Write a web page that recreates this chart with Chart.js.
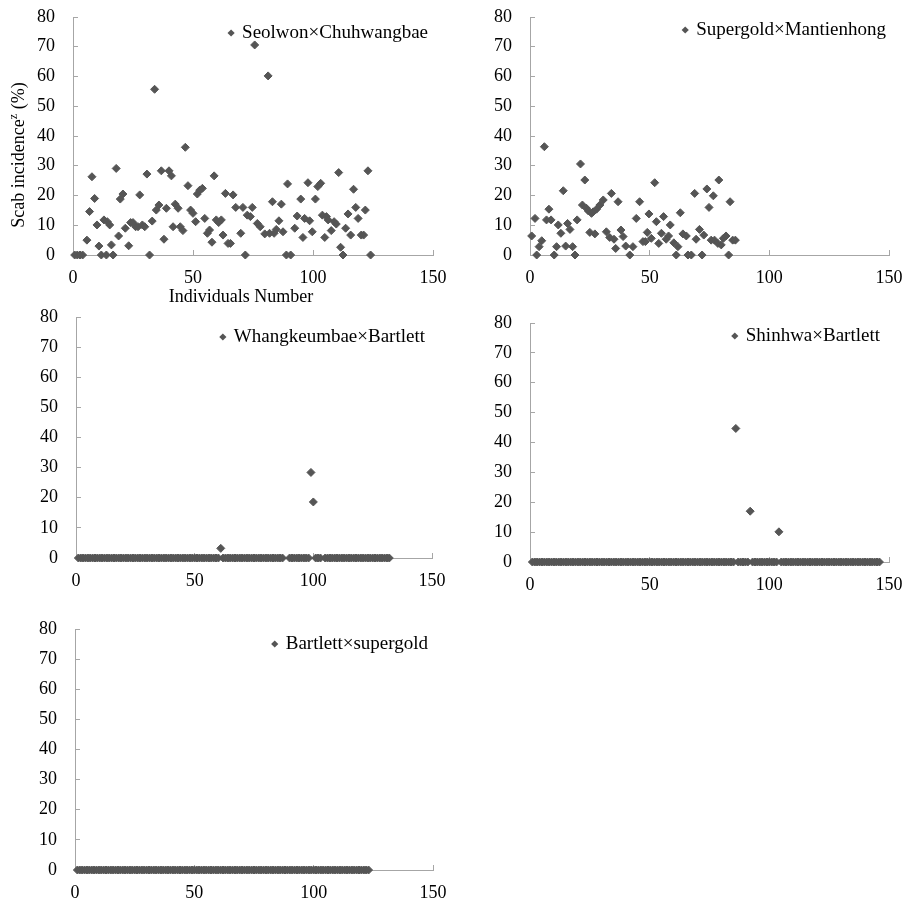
<!DOCTYPE html>
<html>
<head>
<meta charset="utf-8">
<title>Scab incidence by cross</title>
<script src="https://cdn.jsdelivr.net/npm/chart.js@4.4.1/dist/chart.umd.min.js"></script>
<style>
  html, body { margin: 0; background: #fff; overflow: hidden; }
  body { width: 904px; height: 901px; position: relative; font-family: 'Liberation Serif', 'Times New Roman', serif; }
  canvas { position: absolute; }
  .ttl { position: absolute; font-size: 18px; color: #000; white-space: nowrap; text-align: center; line-height: 22px; height: 22px; }
  .ttl sup { font-size: 12px; line-height: 0; }
</style>
</head>
<body>
<canvas id="c1" width="435" height="290" style="left:13px;top:5px"></canvas>
<canvas id="c2" width="434" height="290" style="left:470px;top:5px"></canvas>
<canvas id="c3" width="431" height="293" style="left:16px;top:305px"></canvas>
<canvas id="c4" width="434" height="291" style="left:470px;top:311px"></canvas>
<canvas id="c5" width="433" height="293" style="left:15px;top:617px"></canvas>
<div class="ttl" style="left:-82px;top:144px;width:200px;transform:rotate(-90deg)">Scab incidence<sup>z</sup> (%)</div>
<div class="ttl" style="left:141px;top:285px;width:200px">Individuals Number</div>

<script>
// Seolwon x Chuhwangbae : individual number / scab incidence (%)
const swIds = [0.7,1.8,2.9,4.0,5.8,6.9,7.9,9.0,10.0,10.8,
  11.8,12.9,13.9,14.3,15.3,16.0,16.7,18.0,19.0,19.7,
  20.8,21.8,23.2,24.0,25.0,26.1,27.1,27.8,28.9,29.9,
  30.8,31.9,33.0,34.0,34.7,35.8,36.8,37.9,38.9,40.0,
  41.0,41.7,42.6,43.8,44.7,45.8,46.8,47.9,49.0,50.0,
  51.1,51.8,52.8,53.9,54.9,56.0,56.9,57.9,58.8,59.7,
  60.7,61.8,62.5,63.5,64.6,65.6,66.7,67.8,69.9,70.8,
  71.8,72.6,73.9,74.7,75.7,76.8,78.0,79.9,81.3,81.9,
  83.1,83.8,84.7,85.8,86.8,87.5,88.9,89.4,90.7,92.4,
  93.4,94.9,95.8,96.5,97.9,98.6,99.7,101.0,102.0,103.2,
  103.9,104.9,105.6,106.3,107.6,108.8,109.7,110.7,111.5,112.5,
  113.6,114.6,115.7,116.9,117.8,118.8,120.1,121.1,121.8,122.9,
  124.0];
const swScab = [0,0,0,0,5.0,14.6,26.3,19.0,10.1,3.0,
  0,11.8,0,11.2,10.1,3.4,0,29.1,6.4,18.8,
  20.5,9.0,3.1,10.9,10.9,9.5,9.5,20.2,10.1,9.5,
  27.2,0,11.4,55.7,15.1,16.8,28.3,5.3,15.7,28.3,
  26.6,9.5,17.1,15.7,9.5,8.2,36.2,23.3,15.1,14.0,
  11.2,20.5,21.8,22.4,12.3,7.3,8.4,4.3,26.6,11.8,
  10.9,11.8,6.7,20.7,3.9,3.9,20.2,16.0,7.3,16.0,
  0,13.4,12.9,16.0,70.6,10.6,9.5,7.1,60.2,7.3,
  17.9,7.3,8.6,11.5,17.1,7.8,0,23.9,0,9.0,
  13.1,18.8,5.9,12.3,24.3,11.5,7.8,18.8,23.0,24.1,
  13.4,5.9,12.9,11.8,8.2,11.2,10.4,27.7,2.6,0,
  9.0,13.8,6.7,22.1,16.0,12.3,6.7,6.7,15.1,28.3,
  0];

// Supergold x Mantienhong
const sgIds = [0.7,2.1,2.8,3.8,4.9,6.0,6.9,7.9,8.8,10.1,
  11.1,11.8,12.9,13.9,14.9,15.7,16.7,17.8,18.8,19.7,
  21.1,21.9,22.9,23.6,24.4,25.0,25.7,26.4,27.1,27.8,
  29.2,30.6,31.9,33.3,34.0,35.1,35.8,36.8,38.0,38.9,
  40.0,41.7,43.0,44.4,45.8,47.2,48.2,49.0,49.7,50.7,
  52.1,52.8,53.8,54.9,55.8,56.9,57.9,58.6,60.1,61.1,
  61.8,62.8,63.9,65.3,66.0,67.4,68.8,69.4,70.8,71.9,
  72.6,73.9,74.8,75.7,76.6,77.1,78.5,78.9,79.9,80.8,
  81.9,83.0,83.6,84.7,85.8];
const sgScab = [6.4,12.3,0,2.8,4.8,36.4,11.8,15.4,11.8,0,
  2.8,10.1,7.3,21.6,3.0,10.6,8.6,2.8,0,11.8,
  30.6,16.8,25.2,15.7,14.8,7.6,14.0,14.5,7.1,15.4,
  16.8,18.5,7.8,5.9,20.7,5.3,2.2,17.9,8.4,6.2,
  3.0,0,2.8,12.3,17.9,4.5,4.5,7.6,13.8,5.6,
  24.3,11.2,3.9,7.3,12.9,5.3,6.4,10.1,4.1,0,
  2.8,14.2,7.1,6.4,0,0,20.7,5.3,8.6,0,
  6.7,22.2,16.0,5.0,19.9,5.0,3.9,25.2,3.4,5.6,
  6.4,0,17.9,5.0,5.0];

// Whangkeumbae x Bartlett, individuals 1..132 (null = no record)
const wbScab = [0,0,0,0,0,0,0,0,0,0,
  0,0,0,0,0,0,0,0,0,0,
  0,0,0,0,0,0,0,0,0,0,
  0,0,0,0,0,0,0,0,0,0,
  0,0,0,0,0,0,0,0,0,0,
  0,0,0,0,0,0,0,0,0,0,
  3.2,0,0,0,0,0,0,0,0,0,
  0,0,0,0,0,0,0,0,0,0,
  0,0,0,0,0,0,0,null,null,0,
  0,0,0,0,0,0,0,0,28.4,18.6,
  0,0,0,null,0,0,0,0,0,0,
  0,0,0,0,0,0,0,0,0,0,
  0,0,0,0,0,0,0,0,0,0,
  0,0];

// Shinhwa x Bartlett, individuals 1..146
const shScab = [0,0,0,0,0,0,0,0,0,0,
  0,0,0,0,0,0,0,0,0,0,
  0,0,0,0,0,0,0,0,0,0,
  0,0,0,0,0,0,0,0,0,0,
  0,0,0,0,0,0,0,0,0,0,
  0,0,0,0,0,0,0,0,0,0,
  0,0,0,0,0,0,0,0,0,0,
  0,0,0,0,0,0,0,0,0,0,
  0,0,0,0,0,44.7,0,0,0,0,
  0,17.0,0,0,0,0,0,0,0,0,
  0,0,0,10.1,0,0,0,0,0,0,
  0,0,0,0,0,0,0,0,0,0,
  0,0,0,0,0,0,0,0,0,0,
  0,0,0,0,0,0,0,0,0,0,
  0,0,0,0,0,0];

// Bartlett x supergold, individuals 1..123
const bsScab = [0,0,0,0,0,0,0,0,0,0,
  0,0,0,0,0,0,0,0,0,0,
  0,0,0,0,0,0,0,0,0,0,
  0,0,0,0,0,0,0,0,0,0,
  0,0,0,0,0,0,0,0,0,0,
  0,0,0,0,0,0,0,0,0,0,
  0,0,0,0,0,0,0,0,0,0,
  0,0,0,0,0,0,0,0,0,0,
  0,0,0,0,0,0,0,0,0,0,
  0,0,0,0,0,0,0,0,0,0,
  0,0,0,0,0,0,0,0,0,0,
  0,0,0,0,0,0,0,0,0,0,
  0,0,0];

const xTicks = [0, 50, 100, 150];
const yTicks = [0, 10, 20, 30, 40, 50, 60, 70, 80];

const MARK = '#555555';
const AXIS = '#a6a6a6';
const FONT = "'Liberation Serif', 'Times New Roman', serif";

// légende dessinée dans la zone du graphique (coin haut droit)
const innerLegend = {
  id: 'innerLegend',
  afterDatasetsDraw(chart, args, opts) {
    const ctx = chart.ctx;
    const area = chart.chartArea;
    const label = chart.data.datasets[0].label;
    ctx.save();
    ctx.font = '19px ' + FONT;
    ctx.fillStyle = '#000';
    ctx.textBaseline = 'middle';
    ctx.textAlign = 'left';
    const w = ctx.measureText(label).width;
    const tx = area.right - opts.right - w;
    const ty = area.top + opts.top;
    ctx.fillText(label, tx, ty);
    // petit losange
    const mx = tx - 11, r = 3.6;
    ctx.fillStyle = MARK;
    ctx.beginPath();
    ctx.moveTo(mx, ty - r);
    ctx.lineTo(mx + r, ty);
    ctx.lineTo(mx, ty + r);
    ctx.lineTo(mx - r, ty);
    ctx.closePath();
    ctx.fill();
    ctx.restore();
  }
};

function axis(values, size, isX) {
  return {
    type: 'linear',
    min: values[0],
    max: values[values.length - 1],
    afterBuildTicks: (s) => { s.ticks = values.map(v => ({ value: v })); },
    afterFit: (s) => {
      if (isX) s.height = size; else s.width = size;
      // la marge est gérée par layout.padding
      s.paddingTop = 0; s.paddingBottom = 0; s.paddingLeft = 0; s.paddingRight = 0;
    },
    ticks: {
      color: '#000',
      font: { family: FONT, size: 18 },
      padding: isX ? 17 : 23,
      maxRotation: 0
    },
    grid: { drawOnChartArea: false, drawTicks: true, tickLength: -5, color: AXIS, lineWidth: 1 },
    border: { color: AXIS, width: 1 }
  };
}

function makeChart(id, points, label, leg) {
  return new Chart(document.getElementById(id), {
    type: 'scatter',
    data: {
      datasets: [{
        label: label,
        data: points,
        pointStyle: 'rectRot',
        pointRadius: 4,
        pointHoverRadius: 4,
        backgroundColor: MARK,
        borderColor: MARK,
        borderWidth: 1,
        clip: false
      }]
    },
    options: {
      responsive: false,
      animation: false,
      devicePixelRatio: 1,
      layout: { padding: { top: 12, right: 15, left: 0, bottom: 0 } },
      plugins: {
        legend: { display: false },
        tooltip: { enabled: false },
        innerLegend: leg
      },
      scales: {
        x: axis(xTicks, 40, true),
        y: axis(yTicks, 60, false)
      }
    },
    plugins: [innerLegend]
  });
}

const pairs = (xs, ys) => xs.map((x, i) => ({ x: x, y: ys[i] }));
const byIndex = (ys) => ys.map((y, i) => ({ x: i + 1, y: y }));

makeChart('c1', pairs(swIds, swScab), 'Seolwon×Chuhwangbae', { right: 5, top: 16 });
makeChart('c2', pairs(sgIds, sgScab), 'Supergold×Mantienhong', { right: 3, top: 13 });
makeChart('c3', byIndex(wbScab), 'Whangkeumbae×Bartlett', { right: 7, top: 20 });
makeChart('c4', byIndex(shScab), 'Shinhwa×Bartlett', { right: 9, top: 13 });
makeChart('c5', byIndex(bsScab), 'Bartlett×supergold', { right: 5, top: 15 });
</script>
</body>
</html>
